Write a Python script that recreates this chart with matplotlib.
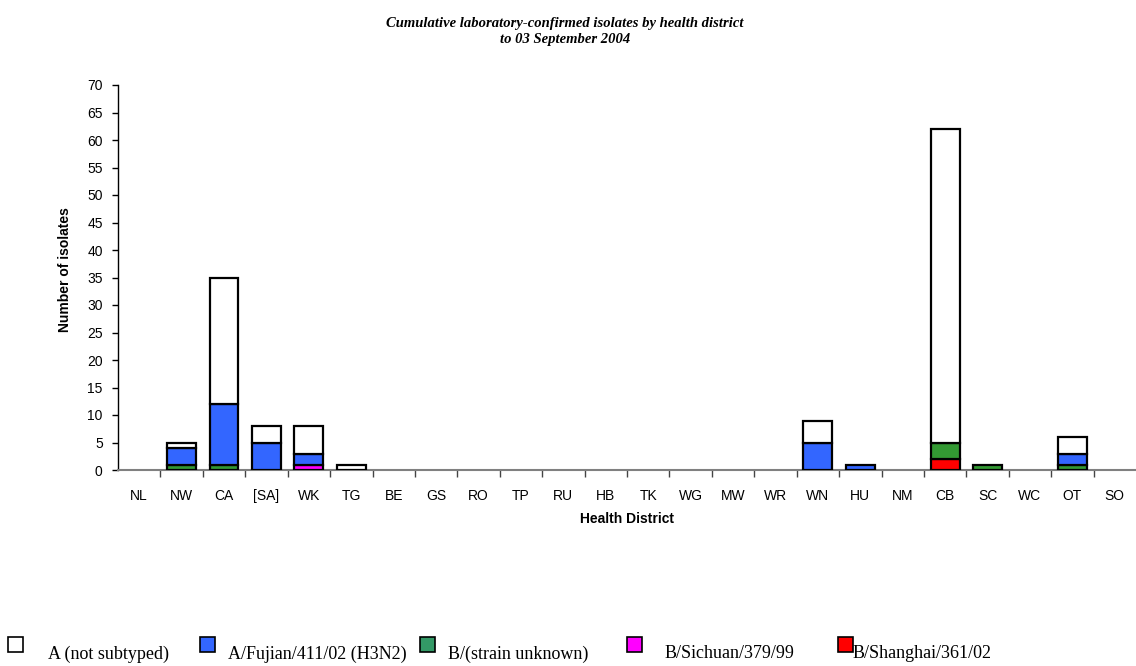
import numpy as np
import matplotlib
matplotlib.use('Agg')
import matplotlib.pyplot as plt
from matplotlib.patches import Rectangle

# Health districts along the x axis
districts = ['NL', 'NW', 'CA', '[SA]', 'WK', 'TG', 'BE', 'GS', 'RO', 'TP', 'RU', 'HB',
             'TK', 'WG', 'MW', 'WR', 'WN', 'HU', 'NM', 'CB', 'SC', 'WC', 'OT', 'SO']

# Isolate counts per series (same order as districts)
shanghai  = [0, 0, 0, 0, 0, 0, 0, 0, 0, 0, 0, 0, 0, 0, 0, 0, 0, 0, 0, 2, 0, 0, 0, 0]
sichuan   = [0, 0, 0, 0, 1, 0, 0, 0, 0, 0, 0, 0, 0, 0, 0, 0, 0, 0, 0, 0, 0, 0, 0, 0]
b_unknown = [0, 1, 1, 0, 0, 0, 0, 0, 0, 0, 0, 0, 0, 0, 0, 0, 0, 0, 0, 3, 1, 0, 1, 0]
fujian    = [0, 3, 11, 5, 2, 0, 0, 0, 0, 0, 0, 0, 0, 0, 0, 0, 5, 1, 0, 0, 0, 0, 2, 0]
a_not_sub = [0, 1, 23, 3, 5, 1, 0, 0, 0, 0, 0, 0, 0, 0, 0, 0, 4, 0, 0, 57, 0, 0, 3, 0]

series = [
    ('B/Shanghai/361/02', shanghai, '#FF0000'),
    ('B/Sichuan/379/99', sichuan, '#FF00FF'),
    ('B/(strain unknown)', b_unknown, '#339933'),
    ('A/Fujian/411/02 (H3N2)', fujian, '#3366FF'),
    ('A (not subtyped)', a_not_sub, '#FFFFFF'),
]

fig = plt.figure(figsize=(11.36, 6.66), dpi=100)
ax = fig.add_axes([118/1136, 1-470/666, 1-118/1136, (470-85)/666])

x = np.arange(len(districts))
bottom = np.zeros(len(districts))
for name, vals, col in series:
    vals = np.array(vals, dtype=float)
    mask = vals > 0
    ax.bar(x[mask], vals[mask], width=0.68, bottom=bottom[mask], color=col,
           edgecolor='black', linewidth=1.6, zorder=3)
    bottom += vals

ax.set_xlim(-0.5, len(districts) - 0.5)
ax.set_ylim(0, 70)
ax.set_yticks(range(0, 71, 5))
ax.set_xticks(x)
ax.set_xticklabels(districts)
ax.set_xticks(np.arange(0.5, len(districts) - 0.5, 1), minor=True)
ax.tick_params(axis='x', which='major', length=0, pad=14, labelsize=10)
ax.tick_params(axis='x', which='minor', length=5, color='#444444', width=1)
ax.tick_params(axis='y', length=4, width=1, labelsize=10, pad=7)
for lab in ax.get_xticklabels() + ax.get_yticklabels():
    lab.set_family('Liberation Sans')

for s in ['top', 'right']:
    ax.spines[s].set_visible(False)
ax.spines['bottom'].set_color('#808080')
ax.spines['bottom'].set_linewidth(1.5)
ax.spines['left'].set_linewidth(1)

ax.set_ylabel('Number of isolates', fontsize=10, fontweight='bold', family='Liberation Sans')
ax.yaxis.set_label_coords((72 - 118) / 1018, (470 - 270) / 385)
ax.set_xlabel('Health District', fontsize=10, fontweight='bold', family='Liberation Sans')
ax.xaxis.set_label_coords((627 - 118) / 1018, -(512 - 470) / 385)

fig.text(565/1136, 1-23/666, 'Cumulative laboratory-confirmed isolates by health district',
         ha='center', va='center', fontsize=10.5, fontweight='bold', fontstyle='italic',
         family='Liberation Serif')
fig.text(565/1136, 1-40/666, 'to 03 September 2004',
         ha='center', va='center', fontsize=10.5, fontweight='bold', fontstyle='italic',
         family='Liberation Serif')

# Legend drawn along the bottom of the figure
leg_items = [
    ('A (not subtyped)', '#FFFFFF', 8, 48),
    ('A/Fujian/411/02 (H3N2)', '#3366FF', 200, 228),
    ('B/(strain unknown)', '#339966', 420, 448),
    ('B/Sichuan/379/99', '#FF00FF', 627, 665),
    ('B/Shanghai/361/02', '#FF0000', 838, 853),
]
for name, col, bx, tx in leg_items:
    fig.patches.append(Rectangle((bx/1136, 1-652/666), 15/1136, 15/666, transform=fig.transFigure,
                                 facecolor=col, edgecolor='black', linewidth=1.2))
    fig.text(tx/1136, 1-654/666, name, ha='left', va='center', fontsize=13,
             family='Liberation Serif')

fig.savefig('out.png', dpi=100)
